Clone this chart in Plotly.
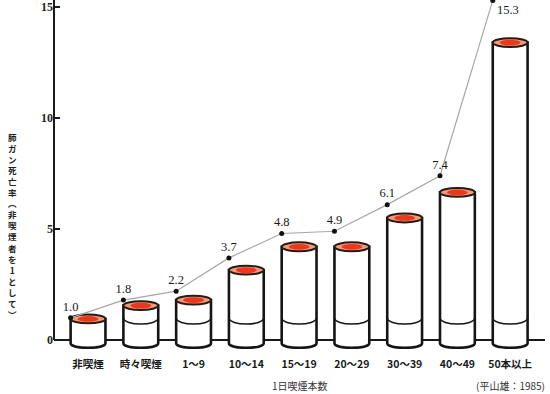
import plotly.graph_objects as go

# ---- data ----
categories = ["非喫煙", "時々喫煙", "1〜9", "10〜14", "15〜19", "20〜29", "30〜39", "40〜49", "50本以上"]
rates = [1.0, 1.8, 2.2, 3.7, 4.8, 4.9, 6.1, 7.4, 15.3]          # labelled death-rate ratios
cyl_tops = [0.95, 1.55, 1.8, 3.15, 4.2, 4.2, 5.5, 6.65, 13.4]    # drawn cylinder heights
y_ticks = [0, 5, 10, 15]
rate_labels = ["1.0", "1.8", "2.2", "3.7", "4.8", "4.9", "6.1", "7.4", "15.3"]

x_pos = list(range(len(categories)))
HALF = 0.33      # half width of a cylinder (category units)
RY = 0.2         # ellipse vertical radius (y units)
BASE = -0.15     # centre of bottom ellipse
MID = 1.0        # level of inner band (non-smoker baseline)
MID_RY = 0.28
YMIN, YMAX = -0.54, 15.32

shapes = []
# zero line (behind cylinders)
shapes.append(dict(type="line", xref="paper", yref="y", x0=0, x1=1, y0=0, y1=0,
                   line=dict(color="#1a1a1a", width=2), layer="below"))
# y axis line
shapes.append(dict(type="line", xref="paper", yref="y", x0=0, x1=0, y0=0, y1=YMAX,
                   line=dict(color="#1a1a1a", width=2), layer="below"))

k = 4.0 / 3.0 * RY
km = 4.0 / 3.0 * MID_RY
for i, top in zip(x_pos, cyl_tops):
    xl, xr = i - HALF, i + HALF
    body = (f"M {xl},{top} L {xl},{BASE} C {xl},{BASE - k} {xr},{BASE - k} {xr},{BASE} "
            f"L {xr},{top} Z")
    shapes.append(dict(type="path", xref="x", yref="y", path=body,
                       fillcolor="white", line=dict(color="#151515", width=2.6), layer="below"))
    if i > 0:
        arc = f"M {xl},{MID} C {xl},{MID - km} {xr},{MID - km} {xr},{MID}"
        shapes.append(dict(type="path", xref="x", yref="y", path=arc,
                           line=dict(color="#151515", width=1.6), layer="below"))
    shapes.append(dict(type="circle", xref="x", yref="y", x0=xl, x1=xr,
                       y0=top - RY, y1=top + RY, fillcolor="#f39a7c",
                       line=dict(color="#2a1a14", width=2), layer="below"))
    shapes.append(dict(type="circle", xref="x", yref="y", x0=i - HALF * 0.6, x1=i + HALF * 0.6,
                       y0=top - RY * 0.65, y1=top + RY * 0.65, fillcolor="#e8381e",
                       line=dict(width=0), layer="below"))

line_x = [i - HALF for i in x_pos]
text_pos = ["top center"] * (len(rates) - 1) + ["bottom right"]

fig = go.Figure()
fig.add_trace(go.Scatter(
    x=line_x, y=rates, mode="lines+markers+text",
    line=dict(color="#a8a8a8", width=1.2),
    marker=dict(color="#111111", size=5),
    text=rate_labels, textposition=text_pos,
    textfont=dict(family="Liberation Serif, DejaVu Serif, serif", size=12.5, color="#1a1a1a"),
    cliponaxis=False, showlegend=False, hoverinfo="skip",
))

fig.update_layout(
    width=550, height=394,
    margin=dict(l=54, r=5, t=0, b=42),
    paper_bgcolor="white", plot_bgcolor="white",
    shapes=shapes,
    xaxis=dict(range=[-0.645, 8.66], tickmode="array", tickvals=x_pos, ticktext=categories,
               showgrid=False, zeroline=False, showline=False, ticks="", ticklabelstandoff=4,
               tickfont=dict(family="Noto Sans CJK JP, sans-serif", size=10.5, color="#1a1a1a",
                             weight="bold")),
    yaxis=dict(range=[YMIN, YMAX], tickmode="array", tickvals=y_ticks,
               showgrid=False, zeroline=False, showline=False,
               ticks="inside", ticklen=6, tickwidth=1.5, tickcolor="#1a1a1a",
               tickfont=dict(family="Liberation Serif, DejaVu Serif, serif", size=12,
                             color="#222222", weight="bold")),
    font=dict(family="Noto Sans CJK JP, sans-serif", color="#222222"),
)

ytitle = "<br>".join(list("肺ガン死亡率︵非喫煙者を1として︶"))
fig.add_annotation(text=ytitle, xref="paper", yref="paper", x=-0.0855, y=0.36,
                   xanchor="center", yanchor="middle", showarrow=False,
                   font=dict(size=8.5, color="#222222", weight="bold"))
fig.add_annotation(text="1日喫煙本数", xref="paper", yref="paper", x=0.5, y=-0.094,
                   xanchor="center", yanchor="middle", showarrow=False,
                   font=dict(size=10, color="#333333"))
fig.add_annotation(text="(平山雄：1985)", xref="paper", yref="paper", x=1.004, y=-0.094,
                   xanchor="right", yanchor="middle", showarrow=False,
                   font=dict(size=10, color="#333333"))

fig.write_html("out.html")
